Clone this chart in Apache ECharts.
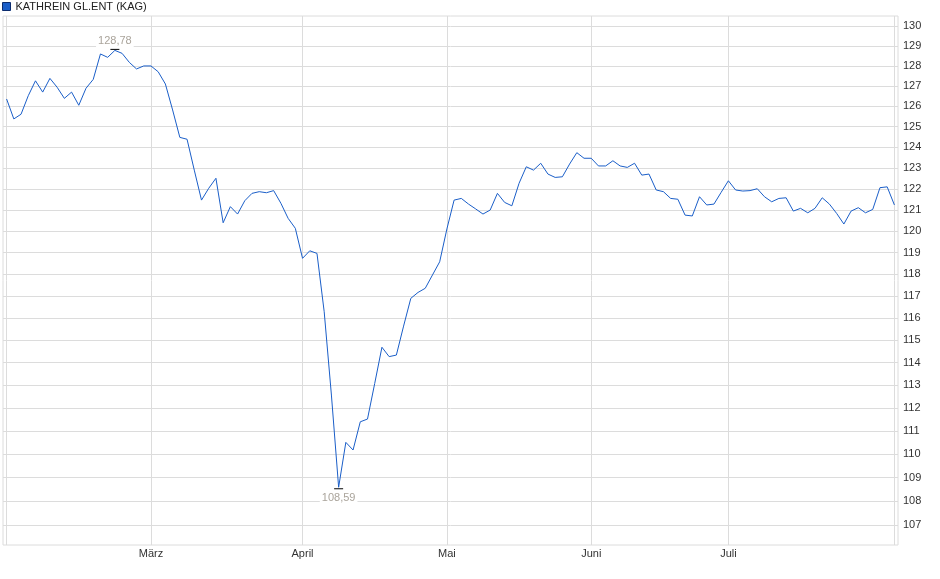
<!DOCTYPE html>
<html>
<head>
    <meta charset="utf-8">
    <title>KATHREIN GL.ENT (KAG)</title>
    <script src="https://cdn.jsdelivr.net/npm/echarts@6/dist/echarts.min.js"></script>
    <style>
        html, body { margin: 0; padding: 0; background: #fff; }
        #chart { width: 940px; height: 579px; }
    </style>
</head>
<body>
<div id="chart"></div>
<script>
    // Kurswerte je Monat (ein Punkt pro Handelstag)
    var monthNames = ['Feb', 'März', 'April', 'Mai', 'Juni', 'Juli'];
    var febValues = [126.36, 125.38, 125.61, 126.52, 127.26, 126.70, 127.38, 126.94, 126.39, 126.70,
        126.05, 126.89, 127.33, 128.60, 128.43, 128.78, 128.63, 128.18, 127.85, 128.00];
    var maerzValues = [128.00, 127.71, 127.10, 125.82, 124.48, 124.39, 122.90, 121.47, 122.03, 122.51,
        120.40, 121.16, 120.81, 121.44, 121.79, 121.87, 121.82, 121.92, 121.32, 120.61, 120.14];
    var aprilValues = [118.74, 119.09, 118.97, 116.29, 112.57, 108.59, 110.51, 110.18, 111.40, 111.52,
        113.08, 114.69, 114.27, 114.34, 115.64, 116.90, 117.17, 117.36, 117.97, 118.58];
    var maiValues = [120.11, 121.47, 121.55, 121.28, 121.05, 120.81, 121.00, 121.79, 121.36, 121.20,
        122.27, 123.06, 122.90, 123.23, 122.71, 122.55, 122.58, 123.19, 123.74, 123.47];
    var juniValues = [123.47, 123.10, 123.10, 123.35, 123.10, 123.03, 123.23, 122.66, 122.71, 121.95,
        121.87, 121.55, 121.51, 120.76, 120.72, 121.63, 121.24, 121.28, 121.84];
    var juliValues = [122.39, 121.95, 121.90, 121.92, 122.01, 121.63, 121.39, 121.55, 121.58, 120.95,
        121.08, 120.87, 121.08, 121.58, 121.28, 120.84, 120.34, 120.95, 121.11, 120.87,
        121.03, 122.06, 122.10, 121.24];
    var yTicks = [107, 108, 109, 110, 111, 112, 113, 114, 115, 116, 117, 118,
        119, 120, 121, 122, 123, 124, 125, 126, 127, 128, 129, 130];

    var seriesName = 'KATHREIN GL.ENT (KAG)';
    var lineColor = '#1a5ec8';
    var gridColor = '#dcdcdc';
    var fontFamily = '"Liberation Sans", Arial, sans-serif';

    // Kategorien und Monatsanfänge aufbauen
    var monthBlocks = [febValues, maerzValues, aprilValues, maiValues, juniValues, juliValues];
    var categories = [], values = [], monthStart = {};
    monthBlocks.forEach(function (block, m) {
        block.forEach(function (v, i) {
            var name = monthNames[m] + ' ' + (i + 1);
            if (i === 0 && m > 0) monthStart[categories.length] = monthNames[m];
            categories.push(name);
            values.push(v);
        });
    });

    var vLines = [{xAxis: categories[0]}, {xAxis: categories[categories.length - 1]}];
    Object.keys(monthStart).forEach(function (idx) {
        vLines.push({xAxis: categories[+idx]});
    });
    var hLines = yTicks.map(function (t) {
        return {yAxis: t};
    });

    function deNum(v) {
        return v.toFixed(2).replace('.', ',');
    }

    var chart = echarts.init(document.getElementById('chart'));
    var option = {
        animation: false,
        textStyle: {fontFamily: fontFamily},
        legend: {
            data: [seriesName],
            left: 2,
            top: 1,
            padding: 0,
            icon: 'rect',
            itemWidth: 8,
            itemHeight: 8,
            itemStyle: {borderColor: '#0b2c6e', borderWidth: 1},
            textStyle: {fontSize: 11, color: '#222', fontFamily: fontFamily}
        },
        grid: {
            left: 3,
            right: 42,
            top: 16,
            bottom: 34,
            show: true,
            borderColor: gridColor,
            borderWidth: 1
        },
        xAxis: {
            type: 'category',
            data: categories,
            boundaryGap: true,
            axisLine: {show: false},
            axisTick: {show: false},
            splitLine: {show: false},
            axisLabel: {
                interval: function (idx) {
                    return monthStart[idx] !== undefined;
                },
                formatter: function (val, idx) {
                    return monthStart[idx] || '';
                },
                margin: 3,
                fontSize: 11,
                color: '#333',
                fontFamily: fontFamily
            }
        },
        yAxis: {
            type: 'log',
            position: 'right',
            min: 106.17,
            max: 130.52,
            axisLine: {show: false},
            axisTick: {show: false},
            axisLabel: {show: false},
            splitLine: {show: false}
        },
        series: [
            {
                name: seriesName,
                type: 'line',
                data: values,
                showSymbol: false,
                symbol: 'none',
                color: lineColor,
                lineStyle: {width: 1, color: lineColor},
                z: 3,
                markLine: {
                    silent: true,
                    symbol: 'none',
                    z: 1,
                    lineStyle: {color: gridColor, width: 1, type: 'solid'},
                    emphasis: {disabled: true},
                    data: hLines.map(function (d) {
                        return Object.assign(d, {
                            label: {
                                show: true,
                                position: 'end',
                                distance: 5,
                                formatter: function (p) {
                                    return p.value;
                                },
                                fontSize: 11,
                                color: '#333',
                                fontFamily: fontFamily
                            }
                        });
                    }).concat(vLines.map(function (d) {
                        return Object.assign(d, {label: {show: false}});
                    }))
                },
                markPoint: {
                    silent: true,
                    symbol: 'rect',
                    symbolSize: [9, 1],
                    itemStyle: {color: '#000'},
                    data: [
                        {
                            type: 'max',
                            symbolOffset: [0, -1],
                            label: {
                                position: 'top',
                                distance: 1,
                                formatter: function (p) {
                                    return deNum(p.value);
                                },
                                color: '#aaa49b',
                                fontSize: 11,
                                fontFamily: fontFamily,
                                backgroundColor: '#fff',
                                padding: [1, 2]
                            }
                        },
                        {
                            type: 'min',
                            symbolOffset: [0, 1.5],
                            label: {
                                position: 'bottom',
                                distance: 2,
                                formatter: function (p) {
                                    return deNum(p.value);
                                },
                                color: '#aaa49b',
                                fontSize: 11,
                                fontFamily: fontFamily,
                                backgroundColor: '#fff',
                                padding: [1, 2]
                            }
                        }
                    ]
                }
            }
        ]
    };
    chart.setOption(option);

    window.onresize = function () {
        chart.resize();
    };
</script>
</body>
</html>
